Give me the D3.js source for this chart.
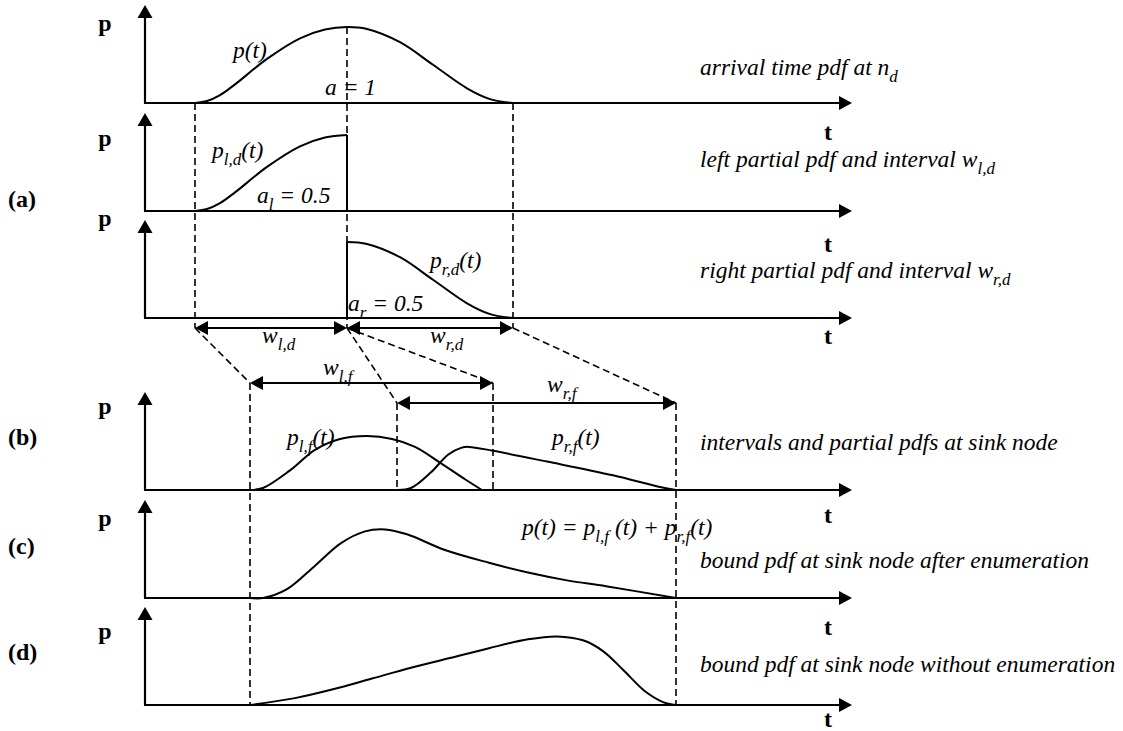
<!DOCTYPE html>
<html>
<head>
<meta charset="utf-8">
<script src="https://cdn.jsdelivr.net/npm/d3@7"></script>
<style>
  body { margin: 0; background: #fff; }
  svg { display: block; }
</style>
</head>
<body>
<svg id="chart" width="1123" height="731"></svg>
<script>
// t = time along the axis (0 = origin, 707 = arrow tip), p = share of the axis height
var pArrival = [[50,0],[62,0.02],[75,0.08],[90,0.19],[122,0.45],[155,0.66],[180,0.75],[202,0.775],
                [222,0.755],[255,0.62],[288,0.39],[322,0.15],[345,0.04],[368,0]];
var pLeftF  = [[105,0],[118,0.02],[145,0.2],[170,0.41],[195,0.52],[222,0.55],[247,0.52],
               [270,0.44],[295,0.28],[320,0.11],[337,0]];
var pRightF = [[252,0],[266,0.02],[286,0.18],[303,0.36],[316,0.43],[324,0.44],[348,0.40],[402,0.29],
               [468,0.15],[515,0.03],[531,0]];
var pEnum   = [[105,0],[118,0],[142,0.09],[169,0.32],[196,0.56],[220,0.68],[240,0.70],[262,0.65],
               [300,0.49],[344,0.36],[383,0.26],[422,0.18],[461,0.12],[531,0]];
var pNoEnum = [[105,0],[150,0.07],[188,0.16],[227,0.27],[266,0.38],[305,0.48],[344,0.58],
               [383,0.67],[412,0.70],[438,0.66],[458,0.55],[478,0.36],[500,0.14],[518,0.03],[531,0]];

var tSplit = 202;     // split point of the arrival pdf
var intervalsD = [{name:"l,d", from:50, to:202}, {name:"r,d", from:202, to:368}];
var intervalsF = [{name:"l,f", from:105, to:348}, {name:"r,f", from:252, to:531}];

var panelLabels = ["(a)", "(b)", "(c)", "(d)"];
var descriptions = [
  ["arrival time pdf at n", ["d"]],
  ["left partial pdf and interval w", ["l,d"]],
  ["right partial pdf and interval w", ["r,d"]],
  ["intervals and partial pdfs at sink node"],
  ["bound pdf at sink node after enumeration"],
  ["bound pdf at sink node without enumeration"]
];

var FONT = "Liberation Serif";
var svg = d3.select("#chart");
var x = d3.scaleLinear().domain([0, 707]).range([145, 852]);
var bases = [103, 211, 318, 490, 598, 705];
var axisH = 98;
var ys = bases.map(function(b){ return d3.scaleLinear().domain([0, 1]).range([b, b - axisH]); });

function head(g, px, py, dir, len, wid) {
  // filled triangle, tip at (px,py)
  var pts;
  if (dir == "up") pts = [[px,py],[px-wid/2,py+len],[px+wid/2,py+len]];
  if (dir == "right") pts = [[px,py],[px-len,py-wid/2],[px-len,py+wid/2]];
  if (dir == "left") pts = [[px,py],[px+len,py-wid/2],[px+len,py+wid/2]];
  g.append("polygon").attr("points", pts.map(function(p){return p.join(",");}).join(" ")).attr("fill","#000");
}

function rich(px, py, parts, size, opts) {
  opts = opts || {};
  var t = svg.append("text").attr("x", px).attr("y", py)
    .attr("font-family", FONT).attr("fill", "#000")
    .attr("font-size", size)
    .attr("font-style", opts.italic === false ? "normal" : "italic")
    .attr("font-weight", opts.bold ? "bold" : "normal");
  var shift = 0, sub = Math.round(size * 0.28);
  parts.forEach(function(p){
    if (Array.isArray(p)) {
      t.append("tspan").attr("dy", sub - shift).attr("font-size", Math.round(size*0.74)).text(p[0]);
      shift = sub;
    } else {
      t.append("tspan").attr("dy", -shift).text(p);
      shift = 0;
    }
  });
  return t;
}

var dashed = svg.append("g").attr("stroke","#000").attr("stroke-width",1.6).attr("stroke-dasharray","7,4").attr("fill","none");
function dline(x1,y1,x2,y2){ dashed.append("line").attr("x1",x1).attr("y1",y1).attr("x2",x2).attr("y2",y2); }

// dashed guides
var yD = 328, yF = [383, 403];
dline(x(50), bases[0], x(50), yD);
dline(x(tSplit), ys[0](0.775), x(tSplit), yD);
dline(x(368), bases[0], x(368), yD);
intervalsF.forEach(function(f, i){
  var d = intervalsD[i];
  dline(x(d.from), yD, x(f.from), yF[i]);
  dline(x(d.to), yD, x(f.to), yF[i]);
});
dline(x(105), yF[0], x(105), bases[5]);
dline(x(348), yF[0], x(348), bases[3]);
dline(x(252), yF[1], x(252), bases[3]);
dline(x(531), yF[1], x(531), bases[5]);

// axes
var axes = svg.append("g");
bases.forEach(function(b){
  axes.append("line").attr("x1",x(0)).attr("y1",b).attr("x2",x(0)).attr("y2",b-axisH+10)
    .attr("stroke","#000").attr("stroke-width",2.2);
  axes.append("line").attr("x1",x(0)-1).attr("y1",b).attr("x2",x(707)-10).attr("y2",b)
    .attr("stroke","#000").attr("stroke-width",2.2);
  head(axes, x(0), b-axisH, "up", 13, 15);
  head(axes, x(707), b, "right", 13, 14);
});

// curves
var curves = svg.append("g").attr("fill","none").attr("stroke","#000").attr("stroke-width",2);
function drawCurve(data, k) {
  var line = d3.line().x(function(d){return x(d[0]);}).y(function(d){return ys[k](d[1]);})
    .curve(d3.curveCatmullRom.alpha(0.5));
  curves.append("path").attr("d", line(data));
}
drawCurve(pArrival, 0);
var leftD = pArrival.filter(function(d){return d[0] <= tSplit;});
var rightD = pArrival.filter(function(d){return d[0] >= tSplit;});
drawCurve(leftD, 1);
drawCurve(rightD, 2);
curves.append("line").attr("x1",x(tSplit)).attr("x2",x(tSplit)).attr("y1",ys[1](0)).attr("y2",ys[1](leftD[leftD.length-1][1]));
curves.append("line").attr("x1",x(tSplit)).attr("x2",x(tSplit)).attr("y1",ys[2](0)).attr("y2",ys[2](rightD[0][1]));
drawCurve(pLeftF, 3);
drawCurve(pRightF, 3);
drawCurve(pEnum, 4);
drawCurve(pNoEnum, 5);

// interval arrows
var arr = svg.append("g");
function interval(a, b, yy) {
  arr.append("line").attr("x1",x(a)+10).attr("x2",x(b)-10).attr("y1",yy).attr("y2",yy)
    .attr("stroke","#000").attr("stroke-width",2);
  head(arr, x(a), yy, "left", 13, 14);
  head(arr, x(b), yy, "right", 13, 14);
}
intervalsD.forEach(function(d){ interval(d.from, d.to, yD); });
intervalsF.forEach(function(f, i){ interval(f.from, f.to, yF[i]); });

// axis letters
var pY = [31, 146, 226, 414, 526, 639];
var tY = [140, 252, 344, 523, 635, 727];
bases.forEach(function(b, i){
  rich(105, pY[i], ["p"], 24, {italic:false, bold:true}).attr("text-anchor","middle");
  rich(828, tY[i], ["t"], 24, {italic:false, bold:true}).attr("text-anchor","middle");
});

// panel labels
var labY = [207, 445, 554, 660];
panelLabels.forEach(function(l, i){
  rich(8, labY[i], [l], 24, {italic:false, bold:true});
});

// descriptions
var descY = [75, 167, 278, 450, 568, 672];
descriptions.forEach(function(d, i){ rich(700, descY[i], d, 23.5); });

// curve annotations
var S = 23.5;
rich(233, 58, ["p(t)"], S);
rich(325, 95, ["a = 1"], S);
rich(212, 158, ["p", ["l,d"], "(t)"], S);
rich(257, 203, ["a", ["l"], " = 0.5"], S);
rich(430, 268, ["p", ["r,d"], "(t)"], S);
rich(348, 311, ["a", ["r"], " = 0.5"], S);
rich(262, 343, ["w", ["l,d"]], S);
rich(430, 343, ["w", ["r,d"]], S);
rich(323, 375, ["w", ["l,f"]], S);
rich(547, 392, ["w", ["r,f"]], S);
rich(287, 445, ["p", ["l,f"], "(t)"], S);
rich(552, 445, ["p", ["r,f"], "(t)"], S);
rich(522, 535, ["p(t) = p", ["l,f"], " (t) + p", ["r,f"], "(t)"], S);
</script>
</body>
</html>
